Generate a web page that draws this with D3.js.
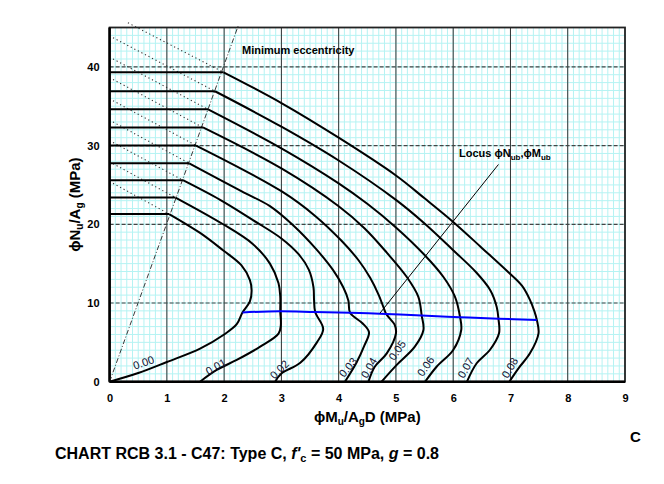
<!DOCTYPE html>
<html>
<head>
<meta charset="utf-8">
<script src="https://cdn.jsdelivr.net/npm/d3@7"></script>
<style>
  body { margin: 0; background: #fff; }
  text { font-family: "Liberation Sans", Arial, sans-serif; }
</style>
</head>
<body>
<div id="chart"></div>
<script>
// steel ratio labels for each curve
const ratios = ["0.00", "0.01", "0.02", "0.03", "0.04", "0.05", "0.06", "0.07", "0.08"];

// interaction curves: first point is the cap start on the N axis,
// second point is the cap end on the minimum eccentricity line
const mu00 = [0, 1.04, 1.58, 1.98, 2.30, 2.45, 2.48, 2.45, 2.32, 2.22, 2.00, 1.58, 1.00, 0.50, 0];
const nu00 = [21.3, 21.3, 18.9, 16.7, 14.8, 12.9, 11.6, 10.2, 8.8, 7.3, 6.0, 4.2, 2.5, 1.1, 0];
const mu01 = [0, 1.15, 1.96, 2.50, 2.80, 2.95, 2.98, 2.98, 2.99, 2.95, 2.63, 2.22, 1.87, 1.58];
const nu01 = [23.4, 23.4, 20.1, 17.5, 15.0, 12.5, 10.8, 8.95, 7.2, 6.1, 4.45, 2.76, 1.49, 0];
const mu02 = [0, 1.28, 1.93, 2.51, 3.00, 3.30, 3.48, 3.56, 3.57, 3.59, 3.73, 3.62, 3.33, 3.00, 2.89];
const nu02 = [25.6, 25.6, 23.1, 20.5, 18.2, 16.2, 14.2, 12.0, 10.4, 8.85, 6.7, 5.0, 2.4, 1.05, 0];
const mu03 = [0, 1.39, 2.30, 2.80, 3.20, 3.60, 3.90, 4.08, 4.17, 4.20, 4.42, 4.53, 4.45, 4.31, 4.11];
const nu03 = [27.75, 27.75, 24.2, 22.3, 19.9, 16.9, 14.2, 12.0, 10.3, 8.75, 7.4, 6.3, 4.6, 2.4, 0];
const mu04 = [0, 1.51, 3.00, 3.60, 4.05, 4.35, 4.55, 4.70, 4.78, 4.83, 4.98, 5.00, 4.84, 4.63, 4.52];
const nu04 = [30.0, 30.0, 24.2, 21.0, 17.9, 15.4, 13.2, 11.0, 9.5, 8.6, 7.2, 6.15, 3.6, 1.9, 0];
const mu05 = [0, 1.63, 3.00, 4.00, 4.45, 4.84, 5.19, 5.39, 5.45, 5.48, 5.33, 5.01, 4.75];
const nu05 = [32.3, 32.3, 27.1, 22.3, 19.5, 16.4, 13.3, 10.8, 8.4, 6.57, 4.45, 2.1, 0];
const mu06 = [0, 1.72, 3.00, 4.00, 4.50, 5.00, 5.50, 5.83, 6.03, 6.12, 6.14, 6.00, 5.71, 5.51];
const nu06 = [34.6, 34.6, 29.65, 25.2, 22.6, 19.6, 16.1, 13.3, 10.8, 8.2, 6.57, 4.03, 1.9, 0];
const mu07 = [0, 1.84, 3.00, 4.00, 5.00, 5.50, 6.00, 6.40, 6.65, 6.76, 6.79, 6.80, 6.64, 6.41, 6.24];
const nu07 = [36.9, 36.9, 32.4, 28.1, 23.1, 20.1, 16.7, 13.9, 11.6, 9.5, 8.0, 6.15, 4.03, 2.34, 0];
const mu08 = [0, 1.99, 3.00, 4.00, 5.00, 5.50, 6.00, 6.50, 6.95, 7.20, 7.34, 7.42, 7.46, 7.49, 7.34, 7.14, 6.98];
const nu08 = [39.3, 39.3, 35.4, 31.0, 26.2, 23.3, 20.3, 17.0, 14.0, 12.2, 10.4, 8.9, 7.85, 6.15, 3.6, 1.7, 0];

const curvesM = [mu00, mu01, mu02, mu03, mu04, mu05, mu06, mu07, mu08];
const curvesN = [nu00, nu01, nu02, nu03, nu04, nu05, nu06, nu07, nu08];

// dotted continuation of each curve above its cap (start point, ends at cap end)
const dotStartM = [0.06, 0.06, 0.06, 0.06, 0.06, 0.06, 0.06, 0.06, 0.32];
const dotStartN = [25.2, 27.7, 30.4, 33.0, 35.7, 38.4, 41.0, 43.7, 45.6];

// balance point locus (blue)
const locusM = [2.32, 2.97, 3.58, 4.20, 4.83, 5.45, 6.12, 6.79, 7.46];
const locusN = [8.8, 8.95, 8.85, 8.75, 8.6, 8.4, 8.2, 8.0, 7.85];

// minimum eccentricity line
const eccM = [0, 2.25];
const eccN = [0, 45.3];

// pointer from the locus label
const pointerM = [6.79, 4.72];
const pointerN = [27.6, 8.7];

// curve label anchors and angles
const labelM = [0.61, 1.88, 3.0, 4.2, 4.57, 5.06, 5.56, 6.26, 7.03];
const labelN = [2.1, 1.6, 1.3, 1.6, 1.6, 3.8, 1.75, 1.6, 1.6];
const labelAngle = [-20, -30, -45, -50, -60, -55, -55, -60, -60];

const xTicks = [0, 1, 2, 3, 4, 5, 6, 7, 8, 9];
const yTicks = [0, 10, 20, 30, 40];

const width = 664, height = 484;

const svg = d3.select("#chart").append("svg")
  .attr("width", width)
  .attr("height", height);

svg.append("rect").attr("width", width).attr("height", height).attr("fill", "#fff");

const x = d3.scaleLinear().domain([0, 9]).range([109.6, 625]);
const y = d3.scaleLinear().domain([0, 45]).range([381.7, 27.5]);

// minor grid
svg.append("g").selectAll("line")
  .data(x.ticks(90))
  .enter().append("line")
  .attr("x1", d => x(d)).attr("x2", d => x(d))
  .attr("y1", y(0)).attr("y2", y(45))
  .attr("stroke", "#b5f3f3").attr("stroke-width", 1);

svg.append("g").selectAll("line")
  .data(y.ticks(45))
  .enter().append("line")
  .attr("x1", x(0)).attr("x2", x(9))
  .attr("y1", d => y(d)).attr("y2", d => y(d))
  .attr("stroke", "#b5f3f3").attr("stroke-width", 1);

// major grid
svg.append("g").selectAll("line")
  .data(xTicks.filter(d => d > 0 && d < 9))
  .enter().append("line")
  .attr("x1", d => x(d)).attr("x2", d => x(d))
  .attr("y1", y(0)).attr("y2", y(45))
  .attr("stroke", "#333").attr("stroke-width", 1);

svg.append("g").selectAll("line")
  .data(yTicks.filter(d => d > 0))
  .enter().append("line")
  .attr("x1", x(0)).attr("x2", x(9))
  .attr("y1", d => y(d)).attr("y2", d => y(d))
  .attr("stroke", "#444").attr("stroke-width", 1.2)
  .attr("stroke-dasharray", "4,2");

// frame
svg.append("rect")
  .attr("x", x(0)).attr("y", y(45))
  .attr("width", x(9) - x(0)).attr("height", y(0) - y(45))
  .attr("fill", "none").attr("stroke", "#222").attr("stroke-width", 1.8);
svg.append("line")
  .attr("x1", x(0)).attr("x2", x(0)).attr("y1", y(45)).attr("y2", y(0))
  .attr("stroke", "#000").attr("stroke-width", 2.6);
svg.append("line")
  .attr("x1", x(0)).attr("x2", x(9)).attr("y1", y(0)).attr("y2", y(0))
  .attr("stroke", "#000").attr("stroke-width", 2.6);

// axes
const xAxis = d3.axisBottom(x).tickValues(xTicks).tickSize(0).tickPadding(13);
const xg = svg.append("g").attr("transform", `translate(0,${y(0)})`).call(xAxis);
xg.select(".domain").remove();
xg.selectAll("text").attr("font-size", 11).attr("font-weight", "bold")
  .attr("font-family", "Liberation Sans, Arial, sans-serif").attr("fill", "#000");

const yAxis = d3.axisLeft(y).tickValues(yTicks).tickSize(0).tickPadding(10);
const yg = svg.append("g").attr("transform", `translate(${x(0)},0)`).call(yAxis);
yg.select(".domain").remove();
yg.selectAll("text").attr("font-size", 11).attr("font-weight", "bold")
  .attr("font-family", "Liberation Sans, Arial, sans-serif").attr("fill", "#000");

// minimum eccentricity line
svg.append("line")
  .attr("x1", x(eccM[0])).attr("y1", y(eccN[0]))
  .attr("x2", x(eccM[1])).attr("y2", y(eccN[1]))
  .attr("stroke", "#222").attr("stroke-width", 0.9)
  .attr("stroke-dasharray", "5,2,1,2");

// dotted extensions
svg.append("g").selectAll("line")
  .data(ratios)
  .enter().append("line")
  .attr("x1", (d, i) => x(dotStartM[i])).attr("y1", (d, i) => y(dotStartN[i]))
  .attr("x2", (d, i) => x(curvesM[i][1])).attr("y2", (d, i) => y(curvesN[i][1]))
  .attr("stroke", "#333").attr("stroke-width", 1.1)
  .attr("stroke-dasharray", "1.2,2.8");

// curves
const capLine = d3.line().x(d => x(d[0])).y(d => y(d[1]));
const smooth = d3.line().x(d => x(d[0])).y(d => y(d[1])).curve(d3.curveCatmullRom.alpha(0.5));

ratios.forEach((r, i) => {
  const pts = curvesM[i].map((m, j) => [m, curvesN[i][j]]);
  svg.append("path")
    .attr("d", capLine(pts.slice(0, 2)))
    .attr("fill", "none").attr("stroke", "#000").attr("stroke-width", 2);
  svg.append("path")
    .attr("d", smooth(pts.slice(1)))
    .attr("fill", "none").attr("stroke", "#000").attr("stroke-width", 2)
    .attr("stroke-linejoin", "round");
});

// locus of balance points
svg.append("path")
  .attr("d", smooth(locusM.map((m, i) => [m, locusN[i]])))
  .attr("fill", "none").attr("stroke", "#0000ff").attr("stroke-width", 2);

// pointer line
svg.append("line")
  .attr("x1", x(pointerM[0])).attr("y1", y(pointerN[0]))
  .attr("x2", x(pointerM[1])).attr("y2", y(pointerN[1]))
  .attr("stroke", "#000").attr("stroke-width", 1);

// curve labels
svg.append("g").selectAll("text")
  .data(ratios)
  .enter().append("text")
  .attr("transform", (d, i) => `translate(${x(labelM[i])},${y(labelN[i])}) rotate(${labelAngle[i]})`)
  .attr("text-anchor", "middle")
  .attr("dy", "0.1em")
  .attr("font-size", 11)
  .attr("fill", "#101030")
  .text(d => d);

// annotations
svg.append("text")
  .attr("x", 242).attr("y", 54)
  .attr("font-size", 11).attr("font-weight", "bold")
  .text("Minimum eccentricity");

const locusLabel = svg.append("text")
  .attr("x", 459).attr("y", 157)
  .attr("font-size", 11).attr("font-weight", "bold");
locusLabel.append("tspan").text("Locus \u03D5N");
locusLabel.append("tspan").attr("font-size", 8).attr("dy", 3).text("ub");
locusLabel.append("tspan").attr("dy", -3).text(",\u03D5M");
locusLabel.append("tspan").attr("font-size", 8).attr("dy", 3).text("ub");

// axis titles
const xTitle = svg.append("text")
  .attr("x", (x(0) + x(9)) / 2).attr("y", 422)
  .attr("text-anchor", "middle")
  .attr("font-size", 15).attr("font-weight", "bold");
xTitle.append("tspan").text("\u03D5M");
xTitle.append("tspan").attr("font-size", 10).attr("dy", 3).text("u");
xTitle.append("tspan").attr("dy", -3).text("/A");
xTitle.append("tspan").attr("font-size", 10).attr("dy", 3).text("g");
xTitle.append("tspan").attr("dy", -3).text("D (MPa)");

const yTitle = svg.append("text")
  .attr("transform", `translate(80,${(y(0) + y(45)) / 2}) rotate(-90)`)
  .attr("text-anchor", "middle")
  .attr("font-size", 15).attr("font-weight", "bold");
yTitle.append("tspan").text("\u03D5N");
yTitle.append("tspan").attr("font-size", 10).attr("dy", 3).text("u");
yTitle.append("tspan").attr("dy", -3).text("/A");
yTitle.append("tspan").attr("font-size", 10).attr("dy", 3).text("g");
yTitle.append("tspan").attr("dy", -3).text(" (MPa)");

svg.append("text")
  .attr("x", 630).attr("y", 442)
  .attr("font-size", 15).attr("font-weight", "bold")
  .text("C");

const title = svg.append("text")
  .attr("x", 55).attr("y", 459)
  .attr("font-size", 16).attr("font-weight", "bold");
title.append("tspan").text("CHART RCB 3.1 - C47: Type C, ");
title.append("tspan").attr("font-style", "italic").text("f'");
title.append("tspan").attr("font-size", 11).attr("dy", 3).text("c");
title.append("tspan").attr("dy", -3).text(" = 50 MPa, ");
title.append("tspan").attr("font-style", "italic").text("g");
title.append("tspan").text(" = 0.8");
</script>
</body>
</html>
